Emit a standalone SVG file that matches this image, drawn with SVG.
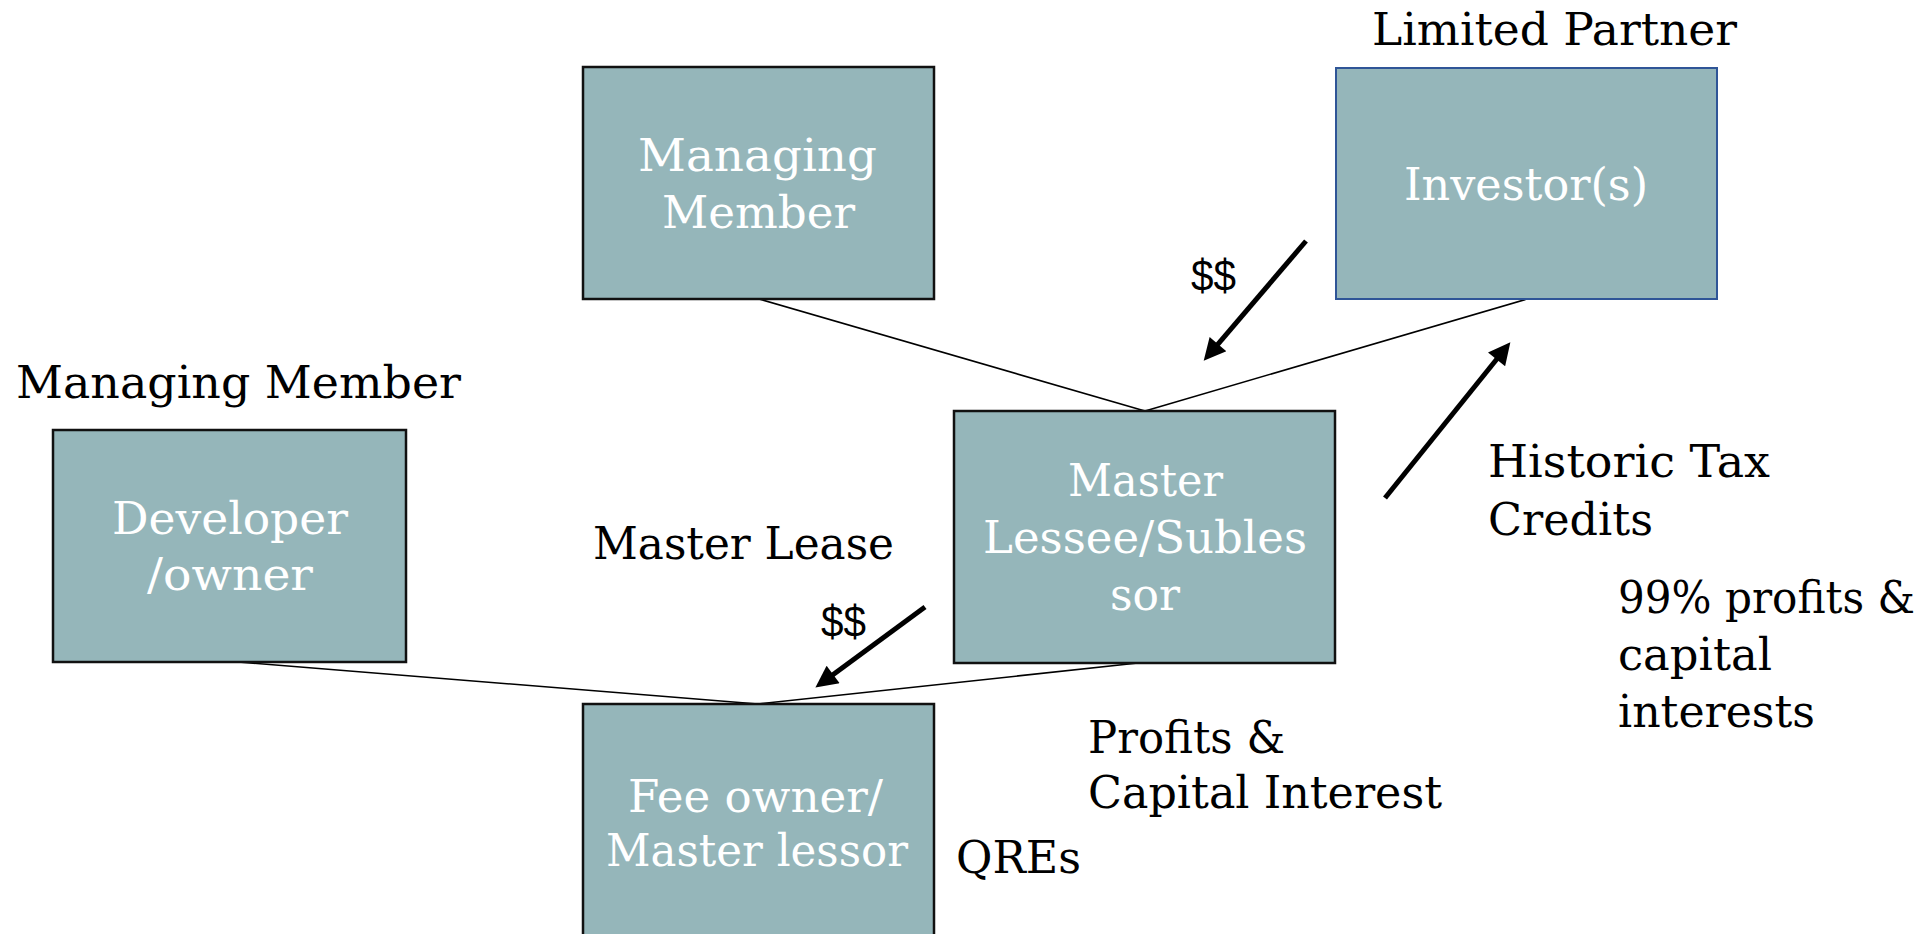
<svg xmlns="http://www.w3.org/2000/svg" width="1928" height="934" viewBox="0 0 1928 934">
  <style>
    .box { fill: #95B6BA; stroke: #111111; stroke-width: 2.5; }
    .box-lp { fill: #95B6BA; stroke: #2F5597; stroke-width: 2; }
    .in { font-family: "DejaVu Serif", "Liberation Serif", serif; font-size: 45px; fill: #FFFFFF; }
    .lbl { font-family: "DejaVu Serif", "Liberation Serif", serif; font-size: 45px; fill: #000000; }
    .money { font-family: "Liberation Sans", "Open Sans", sans-serif; font-size: 44px; fill: #000000; }
    .link { stroke: #000000; stroke-width: 1.6; fill: none; }
    .flow { stroke: #000000; stroke-width: 5; fill: none; marker-end: url(#head); }
  </style>
  <defs>
    <marker id="head" viewBox="0 0 10 10" refX="3" refY="5" markerUnits="userSpaceOnUse" markerWidth="28" markerHeight="22" orient="auto">
      <path d="M0,0 L10,5 L0,10 z" fill="#000000"/>
    </marker>
  </defs>

  <rect width="1928" height="934" fill="#FFFFFF"/>

  <!-- ownership links -->
  <g id="connectors">
    <line class="link" x1="759" y1="299" x2="1145" y2="411"/>
    <line class="link" x1="1527" y1="299" x2="1145" y2="411"/>
    <line class="link" x1="238" y1="662" x2="758" y2="704"/>
    <line class="link" x1="1138" y1="663" x2="758" y2="704"/>
    <line class="flow" x1="1306" y1="241" x2="1213.7" y2="349.1"/>
    <line class="flow" x1="1385" y1="498" x2="1500.7" y2="354.3"/>
    <line class="flow" x1="925" y1="607" x2="827.8" y2="678.4"/>
  </g>

  <g id="managing-member">
    <rect class="box" x="583" y="67" width="351" height="232"/>
    <text class="in" x="638" y="171" textLength="239" lengthAdjust="spacingAndGlyphs">Managing</text>
    <text class="in" x="662" y="228" textLength="193" lengthAdjust="spacingAndGlyphs">Member</text>
  </g>

  <g id="investors">
    <text class="lbl" x="1372" y="45" textLength="365" lengthAdjust="spacingAndGlyphs">Limited Partner</text>
    <rect class="box-lp" x="1336" y="68" width="381" height="231"/>
    <text class="in" x="1404" y="200" textLength="244" lengthAdjust="spacingAndGlyphs">Investor(s)</text>
  </g>

  <g id="developer">
    <text class="lbl" x="16" y="398" textLength="445" lengthAdjust="spacingAndGlyphs">Managing Member</text>
    <rect class="box" x="53" y="430" width="353" height="232"/>
    <text class="in" x="112" y="534" textLength="236" lengthAdjust="spacingAndGlyphs">Developer</text>
    <text class="in" x="147" y="590" textLength="166" lengthAdjust="spacingAndGlyphs">/owner</text>
  </g>

  <g id="master-lessee">
    <rect class="box" x="954" y="411" width="381" height="252"/>
    <text class="in" x="1068" y="496" textLength="155" lengthAdjust="spacingAndGlyphs">Master</text>
    <text class="in" x="983" y="553" textLength="324" lengthAdjust="spacingAndGlyphs">Lessee/Subles</text>
    <text class="in" x="1110" y="610" textLength="70" lengthAdjust="spacingAndGlyphs">sor</text>
  </g>

  <g id="fee-owner">
    <rect class="box" x="583" y="704" width="351" height="260"/>
    <text class="in" x="628" y="812" textLength="255" lengthAdjust="spacingAndGlyphs">Fee owner/</text>
    <text class="in" x="606" y="866" textLength="302" lengthAdjust="spacingAndGlyphs">Master lessor</text>
  </g>

  <g id="labels">
    <text class="money" x="1191" y="291" textLength="45" lengthAdjust="spacingAndGlyphs">$$</text>
    <text class="money" x="821" y="637" textLength="45" lengthAdjust="spacingAndGlyphs">$$</text>
    <text class="lbl" x="593" y="559" textLength="301" lengthAdjust="spacingAndGlyphs">Master Lease</text>
    <text class="lbl" x="1488" y="477" textLength="282" lengthAdjust="spacingAndGlyphs">Historic Tax</text>
    <text class="lbl" x="1488" y="535" textLength="165" lengthAdjust="spacingAndGlyphs">Credits</text>
    <text class="lbl" x="1618" y="613" textLength="297" lengthAdjust="spacingAndGlyphs">99% profits &amp;</text>
    <text class="lbl" x="1618" y="670" textLength="154" lengthAdjust="spacingAndGlyphs">capital</text>
    <text class="lbl" x="1618" y="727" textLength="197" lengthAdjust="spacingAndGlyphs">interests</text>
    <text class="lbl" x="1088" y="753" textLength="197" lengthAdjust="spacingAndGlyphs">Profits &amp;</text>
    <text class="lbl" x="1088" y="808" textLength="354" lengthAdjust="spacingAndGlyphs">Capital Interest</text>
    <text class="lbl" x="956" y="873" textLength="125" lengthAdjust="spacingAndGlyphs">QREs</text>
  </g>
</svg>
